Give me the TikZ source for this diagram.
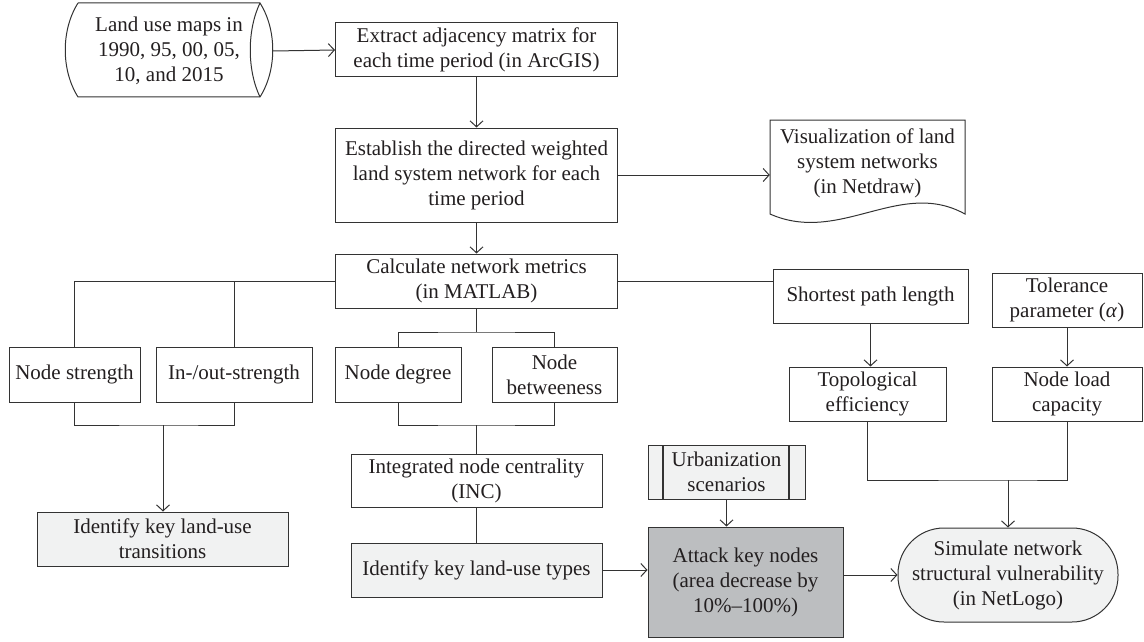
\documentclass[tikz,border=0pt]{standalone}
\usepackage{fontspec}
\setmainfont{Liberation Serif}
\usetikzlibrary{arrows.meta}
\definecolor{ln}{HTML}{333333}
\definecolor{tx}{HTML}{231F20}
\definecolor{lightfill}{HTML}{F1F2F2}
\definecolor{darkfill}{HTML}{BCBEC0}
\tikzset{
  box/.style={draw=ln, line width=1pt, fill=white, inner sep=2pt, align=center, text=tx, font=\fontsize{21}{25}\selectfont},
  lbox/.style={box, fill=lightfill},
  plain/.style={inner sep=0pt, align=center, text=tx, font=\fontsize{21}{25}\selectfont},
  conn/.style={draw=ln, line width=1pt},
  arr/.style={conn, -{Straight Barb[length=6pt,width=13pt,line width=1pt]}},
}
\begin{document}
\begin{tikzpicture}[x=1pt,y=-1pt]
\useasboundingbox (0,0) rectangle (1144,642);
% Land use maps shape
\draw[conn] (78,3) -- (260,3) .. controls (277,30) and (277,70) .. (260,97) -- (78,97) .. controls (61,70) and (61,30) .. (78,3);
\draw[conn] (260,3) .. controls (247,30) and (247,70) .. (260,97);
\node[plain, minimum width=208pt] (maps) at (169,51) {Land use maps in\\1990, 95, 00, 05,\\10, and 2015};
% Visualization document shape
\draw[conn] (770,120) -- (965,120) -- (965,214) .. controls (900,178) and (840,245) .. (770,214) -- cycle;
\node[plain, minimum width=195pt] (vis) at (867.5,163) {Visualization of land\\system networks\\(in Netdraw)};

\node[box, minimum width=282pt, minimum height=54pt] (extract) at (476.5,50) {Extract adjacency matrix for\\each time period (in ArcGIS)};
\node[box, minimum width=282pt, minimum height=94pt] (establish) at (476.5,175) {Establish the directed weighted\\land system network for each\\time period};
\node[box, minimum width=282pt, minimum height=54pt] (calc) at (476.5,281) {Calculate network metrics\\(in MATLAB)};

\node[box, minimum width=131pt, minimum height=55pt] (strength) at (74.5,374.5) {Node strength};
\node[box, minimum width=156pt, minimum height=55pt] (inout) at (234,374.5) {In-/out-strength};
\node[box, minimum width=126pt, minimum height=55pt] (deg) at (398,374.5) {Node degree};
\node[box, minimum width=125pt, minimum height=55pt] (btw) at (554.5,374.5) {Node\\betweeness};

\node[box, minimum width=195pt, minimum height=54pt] (spl) at (870.5,296) {Shortest path length};
\node[box, minimum width=150pt, minimum height=54pt] (tol) at (1067,300) {Tolerance\\parameter (\textit{α})};
\node[box, minimum width=157pt, minimum height=54pt] (topo) at (867.5,394) {Topological\\efficiency};
\node[box, minimum width=150pt, minimum height=54pt] (load) at (1067,394) {Node load\\capacity};

\node[lbox, minimum width=251pt, minimum height=54pt] (trans) at (162.5,539) {Identify key land-use\\transitions};
\node[box, minimum width=251pt, minimum height=53pt] (inc) at (476.5,480.5) {Integrated node centrality\\(INC)};
\node[lbox, minimum width=251pt, minimum height=54pt] (types) at (476.5,570) {Identify key land-use types};

\node[lbox, minimum width=157pt, minimum height=54pt] (urb) at (726.5,472) {Urbanization\\scenarios};
\draw[draw=ln, line width=2pt] (663,445) -- (663,499) (789,445) -- (789,499);
\node[box, fill=darkfill, minimum width=195pt, minimum height=110pt] (attack) at (745.5,582) {Attack key nodes\\(area decrease by\\10\%–100\%)};
\node[box, fill=lightfill, minimum width=220pt, minimum height=94pt, rounded corners=46pt] (sim) at (1008,575) {Simulate network\\structural vulnerability\\(in NetLogo)};

\coordinate (j1) at (163,425);
\coordinate (j2) at (476.5,332);
\coordinate (j3) at (476.5,425);
\coordinate (j4) at (1008,480);

% connectors
\draw[arr] (maps.east) -- (extract.west);
\draw[arr] (extract.south) -- (establish.north);
\draw[arr] (establish.east) -- (establish.east -| vis.west);
\draw[arr] (establish.south) -- (calc.north);

\draw[conn] (calc.west) -| (strength.north);
\draw[conn] (inout.north) -- (inout.north |- calc.west);
\draw[conn] (strength.south) |- (j1) -| (inout.south);
\draw[arr] (j1) -- (j1 |- trans.north);

\draw[conn] (calc.south) -- (j2);
\draw[conn] (deg.north) |- (j2) -| (btw.north);
\draw[conn] (deg.south) |- (j3) -| (btw.south);
\draw[conn] (j3) -- (inc.north);
\draw[conn] (inc.south) -- (types.north);
\draw[arr] (types.east) -- (types.east -| attack.west);
\draw[arr] (urb.south) -- (urb.south |- attack.north);
\draw[arr] (sim.west -| attack.east) -- (sim.west);

\draw[conn] (calc.east) -- (calc.east -| spl.west);
\draw[arr] (spl.south) -- (spl.south |- topo.north);
\draw[arr] (tol.south) -- (load.north);
\draw[conn] (topo.south) |- (j4) -| (load.south);
\draw[arr] (j4) -- (sim.north);
\end{tikzpicture}
\end{document}
